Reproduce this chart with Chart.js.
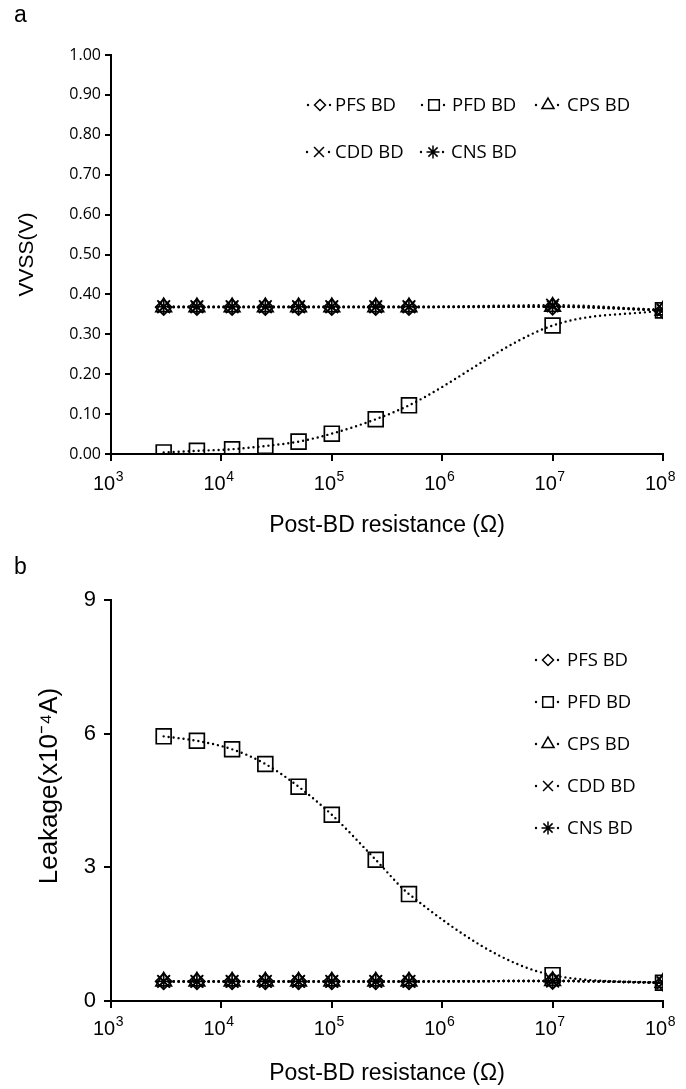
<!DOCTYPE html>
<html>
<head>
<meta charset="utf-8">
<script src="https://cdn.jsdelivr.net/npm/chart.js@4.4.1/dist/chart.umd.min.js"></script>
<style>
  body { margin: 0; background: #fff; }
  #wrap { position: relative; width: 686px; height: 1089px; }
  .panel { position: absolute; left: 0; width: 686px; }
  .tag { position: absolute; left: 14px; font: 23px "Liberation Sans", Arial, sans-serif; color: #000; }
</style>
</head>
<body>
<div id="wrap">
  <div class="panel" style="top:0;height:560px"><canvas id="chartA"></canvas></div>
  <div class="panel" style="top:560px;height:529px"><canvas id="chartB"></canvas></div>
  <div class="tag" style="top:1px">a</div>
  <div class="tag" style="top:553px">b</div>
</div>
<script>
// post-BD resistance (ohm)
const resistance = [3000, 6000, 12500, 25000, 50000, 100000, 250000, 500000, 1e7, 1e8];
const xTicks = [1e3, 1e4, 1e5, 1e6, 1e7, 1e8];
const xTickExps = ['3', '4', '5', '6', '7', '8'];
const seriesNames = ['PFS BD', 'PFD BD', 'CPS BD', 'CDD BD', 'CNS BD'];
const markers = ['rectRot', 'rect', 'triangle', 'crossRot', 'star'];
const markerSizes = [8, 10.5, 9, 9, 8];
const legendSizes = [5.5, 7.5, 7, 7, 6.5];

// panel a: VVSS (V)
const vvssPFS = [0.368, 0.368, 0.368, 0.368, 0.368, 0.368, 0.368, 0.368, 0.369, 0.36];
const vvssPFD = [0.004, 0.008, 0.012, 0.02, 0.031, 0.051, 0.087, 0.122, 0.322, 0.36];
const vvssCPS = [0.368, 0.368, 0.368, 0.368, 0.368, 0.368, 0.368, 0.368, 0.369, 0.36];
const vvssCDD = [0.369, 0.369, 0.369, 0.369, 0.369, 0.369, 0.369, 0.369, 0.373, 0.361];
const vvssCNS = [0.369, 0.369, 0.369, 0.369, 0.369, 0.369, 0.369, 0.369, 0.37, 0.361];
const vvssTicks = [0, 0.1, 0.2, 0.3, 0.4, 0.5, 0.6, 0.7, 0.8, 0.9, 1.0];

// panel b: leakage (x1e-4 A)
const leakPFS = [0.44, 0.44, 0.44, 0.44, 0.44, 0.44, 0.44, 0.44, 0.45, 0.41];
const leakPFD = [5.94, 5.84, 5.65, 5.32, 4.81, 4.18, 3.17, 2.4, 0.58, 0.41];
const leakCPS = [0.44, 0.44, 0.44, 0.44, 0.44, 0.44, 0.44, 0.44, 0.45, 0.41];
const leakCDD = [0.44, 0.44, 0.44, 0.44, 0.44, 0.44, 0.44, 0.44, 0.45, 0.41];
const leakCNS = [0.44, 0.44, 0.44, 0.44, 0.44, 0.44, 0.44, 0.44, 0.45, 0.41];
const leakTicks = [0, 3, 6, 9];

const ARIAL = '"Liberation Sans", Arial, sans-serif';
const CAL = '"Open Sans", "Noto Sans", sans-serif';

function makeSets(valueLists) {
    return valueLists.map((vals, i) => ({
        label: seriesNames[i],
        data: vals.map((v, j) => ({ x: resistance[j], y: v })),
        borderColor: '#000',
        borderWidth: 2.4,
        borderDash: [0, 5],
        borderCapStyle: 'round',
        cubicInterpolationMode: 'monotone',
        pointStyle: markers[i],
        pointRadius: markerSizes[i],
        pointBorderWidth: 1.7,
        pointBorderColor: '#000',
        pointBackgroundColor: 'rgba(0,0,0,0)'
    }));
}

// legend drawn inside the plot area
const insideLegend = {
    id: 'insideLegend',
    afterDraw(chart, args, opts) {
        const ctx = chart.ctx;
        ctx.save();
        ctx.font = opts.font;
        ctx.textBaseline = 'middle';
        chart.data.datasets.forEach((ds, i) => {
            const [x, y, tx] = opts.slots[i];
            ctx.fillStyle = '#000';
            [x - 12, x + 10].forEach(px => {
                ctx.beginPath();
                ctx.arc(px, y, 1.2, 0, Math.PI * 2);
                ctx.fill();
            });
            ctx.strokeStyle = '#000';
            ctx.lineWidth = 1.5;
            ctx.fillStyle = 'rgba(0,0,0,0)';
            if (Chart.helpers && Chart.helpers.drawPoint) {
                Chart.helpers.drawPoint(ctx, {
                    pointStyle: ds.pointStyle,
                    radius: legendSizes[i],
                    rotation: 0,
                    borderWidth: 1.5
                }, x, y);
            }
            ctx.fillStyle = '#000';
            ctx.fillText(ds.label, tx, y + 1);
        });
        ctx.restore();
    }
};

// 10^n labels under the log axis
const powerLabels = {
    id: 'powerLabels',
    afterDraw(chart, args, opts) {
        const sx = chart.scales.x;
        const ctx = chart.ctx;
        ctx.save();
        ctx.fillStyle = '#000';
        ctx.textBaseline = 'alphabetic';
        sx.ticks.forEach(t => {
            const exp = xTickExps[xTicks.indexOf(t.value)];
            ctx.font = '20px ' + ARIAL;
            const wb = ctx.measureText('10').width;
            ctx.font = '14px ' + ARIAL;
            const we = ctx.measureText(exp).width;
            const x0 = sx.getPixelForValue(t.value) - (wb + we) / 2 - 3;
            const y = sx.top + opts.offset;
            ctx.font = '20px ' + ARIAL;
            ctx.fillText('10', x0, y);
            ctx.font = '14px ' + ARIAL;
            ctx.fillText(exp, x0 + wb + 0.5, y - 9);
        });
        ctx.restore();
    }
};

// rotated axis title at a fixed spot
const sideTitle = {
    id: 'sideTitle',
    afterDraw(chart, args, opts) {
        if (!opts.text) return;
        const ctx = chart.ctx;
        ctx.save();
        ctx.translate(opts.x, opts.y);
        ctx.rotate(-Math.PI / 2);
        ctx.font = opts.font;
        ctx.fillStyle = '#000';
        ctx.textAlign = 'center';
        ctx.textBaseline = 'middle';
        ctx.fillText(opts.text, 0, 0);
        ctx.restore();
    }
};

function xAxis(height, titlePad) {
    return {
        type: 'logarithmic',
        min: 1e3,
        max: 1e8,
        afterBuildTicks: s => { s.ticks = xTicks.map(v => ({ value: v })); },
        afterFit: s => {
            s.height = height;
            s.paddingLeft = 0;
            s.paddingRight = 0;
        },
        ticks: { display: false },
        grid: { drawOnChartArea: false, drawTicks: true, tickLength: 7, color: '#000', lineWidth: 2 },
        border: { color: '#000', width: 2 },
        title: {
            display: true,
            text: 'Post-BD resistance (Ω)',
            color: '#000',
            font: { family: ARIAL, size: 23 },
            padding: { top: 0, bottom: titlePad }
        }
    };
}

new Chart(document.getElementById('chartA'), {
    type: 'line',
    data: { datasets: makeSets([vvssPFS, vvssPFD, vvssCPS, vvssCDD, vvssCNS]) },
    options: {
        responsive: true,
        maintainAspectRatio: false,
        animation: false,
        layout: { padding: { top: 55, right: 23, left: 0, bottom: 0 } },
        scales: {
            x: xAxis(106, 21),
            y: {
                min: 0,
                max: 1,
                afterBuildTicks: s => { s.ticks = vvssTicks.map(v => ({ value: v })); },
                afterFit: s => { s.width = 111; },
                ticks: {
                    color: '#000',
                    padding: 4,
                    font: { family: CAL, size: 16 },
                    callback: v => v.toFixed(2)
                },
                grid: { drawOnChartArea: false, drawTicks: true, tickLength: 6, color: '#000', lineWidth: 2 },
                border: { color: '#000', width: 2 },
                title: {
                    display: true,
                    text: 'VVSS(V)',
                    color: '#000',
                    font: { family: ARIAL, size: 21 },
                    padding: { top: 15, bottom: 0 }
                }
            }
        },
        plugins: {
            legend: { display: false },
            tooltip: { enabled: false },
            insideLegend: {
                font: '18.5px ' + CAL,
                slots: [[320, 105, 335], [434, 105, 452], [548, 105, 567], [319, 152, 335], [433, 152, 451]]
            },
            powerLabels: { offset: 36 }
        }
    },
    plugins: [insideLegend, powerLabels]
});

new Chart(document.getElementById('chartB'), {
    type: 'line',
    data: { datasets: makeSets([leakPFS, leakPFD, leakCPS, leakCDD, leakCNS]) },
    options: {
        responsive: true,
        maintainAspectRatio: false,
        animation: false,
        layout: { padding: { top: 40, right: 23, left: 0, bottom: 0 } },
        scales: {
            x: xAxis(88, 2),
            y: {
                min: 0,
                max: 9,
                afterBuildTicks: s => { s.ticks = leakTicks.map(v => ({ value: v })); },
                afterFit: s => { s.width = 111; },
                ticks: {
                    color: '#000',
                    padding: 8,
                    font: { family: ARIAL, size: 22 }
                },
                grid: { drawOnChartArea: false, drawTicks: true, tickLength: 7, color: '#000', lineWidth: 2 },
                border: { color: '#000', width: 2 },
                title: { display: false }
            }
        },
        plugins: {
            legend: { display: false },
            tooltip: { enabled: false },
            insideLegend: {
                font: '18.5px ' + CAL,
                slots: [[548, 100, 567], [548, 142, 567], [548, 184, 567], [548, 226, 567], [548, 268, 567]]
            },
            powerLabels: { offset: 34 },
            sideTitle: { text: 'Leakage(x10⁻⁴A)', x: 50, y: 226, font: '26px ' + ARIAL }
        }
    },
    plugins: [insideLegend, powerLabels, sideTitle]
});
</script>
</body>
</html>
